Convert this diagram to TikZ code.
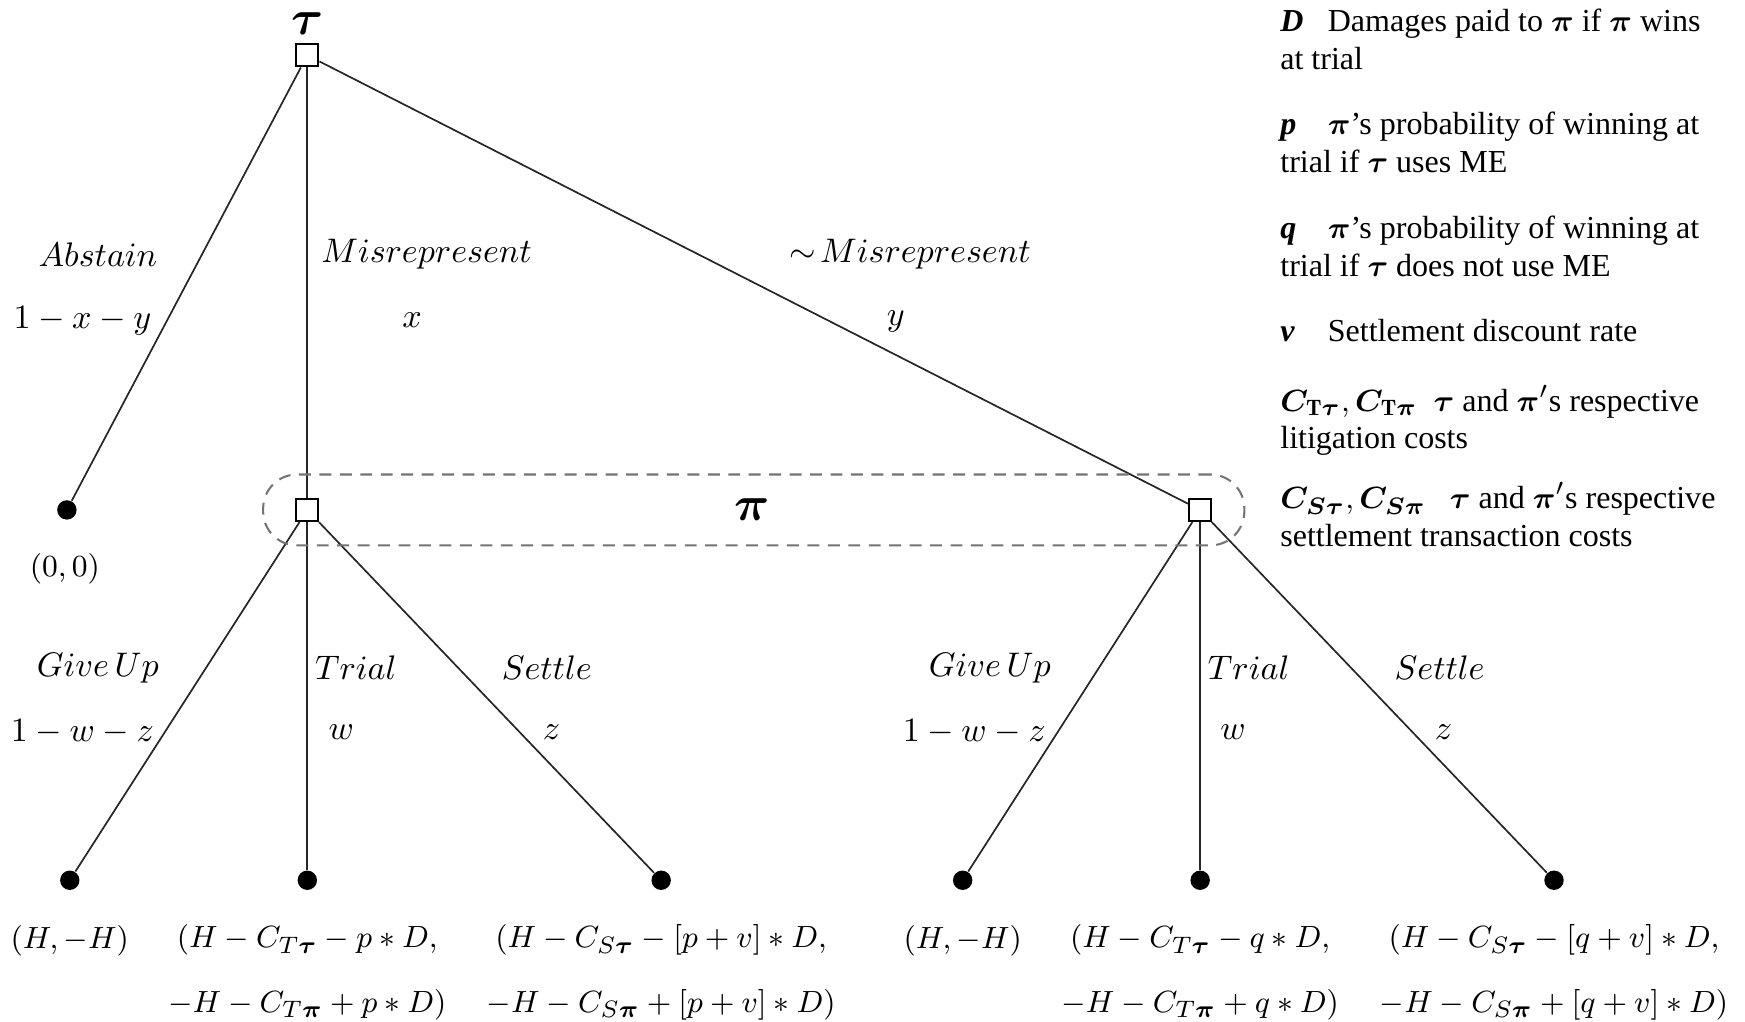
\documentclass[tikz,border=0pt]{standalone}
\usepackage{fontspec}
\usepackage{amsmath}
\usepackage{bm}
\newfontfamily\legendfont{Liberation Serif}
\usetikzlibrary{positioning, fit}
\tikzset{
  decision/.style={rectangle, draw, line width=0.6pt, fill=white, minimum size=0.23cm, inner sep=0pt},
  leaf/.style={circle, fill=black, minimum size=0.2cm, inner sep=0pt},
  branch/.style={draw=black!85, line width=0.5pt},
  player/.style={font=\Large, inner sep=0pt},
  act/.style={inner sep=1pt, font=\fontsize{9.6}{11.5}\selectfont},
  payoff/.style={align=center, inner sep=1pt, font=\fontsize{9.5}{11.4}\selectfont},
  infoset/.style={draw=black!55, dash pattern=on 3.5pt off 2.5pt, line width=0.6pt, rounded corners=0.35cm, inner xsep=0.33cm, inner ysep=0.24cm},
  legend/.style={anchor=base west, align=left, inner sep=0pt, font=\legendfont\fontsize{9.4}{11.1}\selectfont},
}

\begin{document}
\begin{tikzpicture}
  \useasboundingbox (0,0) rectangle (18,-10.54);

  % Decision nodes
  \node[player] (tauLab) at (3.17,-0.24) {$\bm{\tau}$};
  \node[decision] (tau) at (3.17,-0.57) {};
  \node[decision] (piL) at (3.17,-5.26) {};
  \node[decision] (piR) at (12.38,-5.26) {};

  % Terminal nodes
  \node[leaf] (abst) at (0.69,-5.26) {};
  \node[leaf] (giveL) at (0.72,-9.08) {};
  \node[leaf] (trialL) at (3.17,-9.08) {};
  \node[leaf] (settleL) at (6.82,-9.08) {};
  \node[leaf] (giveR) at (9.93,-9.08) {};
  \node[leaf] (trialR) at (12.38,-9.08) {};
  \node[leaf] (settleR) at (16.03,-9.08) {};

  % Branches
  \draw[branch] (tau) -- (abst);
  \draw[branch] (tau) -- (piL);
  \draw[branch] (tau) -- (piR);
  \draw[branch] (piL) -- (giveL);
  \draw[branch] (piL) -- (trialL);
  \draw[branch] (piL) -- (settleL);
  \draw[branch] (piR) -- (giveR);
  \draw[branch] (piR) -- (trialR);
  \draw[branch] (piR) -- (settleR);

  % Information set of pi
  \node[infoset, fit=(piL)(piR)] (info) {};
  \node[player] (piLab) at (7.76,-5.26) {$\bm{\pi}$};

  % Actions of tau
  \node[act] (aAbst) at (1.01,-2.63) {$Abstain$};
  \node[act] (prAbst) at (0.85,-3.31) {$1-x-y$};
  \node[act] (aMis) at (4.40,-2.62) {$Misrepresent$};
  \node[act] (prMis) at (4.25,-3.30) {$x$};
  \node[act] (aNot) at (9.39,-2.62) {$\sim\!Misrepresent$};
  \node[act] (prNot) at (9.24,-3.32) {$y$};

  % Actions of pi
  \node[act] (aGiveL) at (1.01,-6.89) {$Give\,Up$};
  \node[act] (prGiveL) at (0.85,-7.55) {$1-w-z$};
  \node[act] (aTrialL) at (3.67,-6.89) {$Trial$};
  \node[act] (prTrialL) at (3.52,-7.55) {$w$};
  \node[act] (aSettleL) at (5.64,-6.89) {$Settle$};
  \node[act] (prSettleL) at (5.69,-7.55) {$z$};
  \node[act] (aGiveR) at (10.21,-6.89) {$Give\,Up$};
  \node[act] (prGiveR) at (10.05,-7.55) {$1-w-z$};
  \node[act] (aTrialR) at (12.88,-6.89) {$Trial$};
  \node[act] (prTrialR) at (12.72,-7.55) {$w$};
  \node[act] (aSettleR) at (14.85,-6.89) {$Settle$};
  \node[act] (prSettleR) at (14.89,-7.55) {$z$};

  % Payoffs
  \node[payoff] (payAbst) at (0.67,-5.87) {$(0,0)$};
  \node[payoff] (payGiveL) at (0.72,-9.70) {$(H,-H)$};
  \node[payoff] (payTrialL) at (3.17,-10.03) {$(H-C_{T\bm{\tau}}-p*D,$\\[7.5pt]$-H-C_{T\bm{\pi}}+p*D)$};
  \node[payoff] (paySettleL) at (6.82,-10.03) {$(H-C_{S\bm{\tau}}-[p+v]*D,$\\[7.5pt]$-H-C_{S\bm{\pi}}+[p+v]*D)$};
  \node[payoff] (payGiveR) at (9.93,-9.70) {$(H,-H)$};
  \node[payoff] (payTrialR) at (12.38,-10.03) {$(H-C_{T\bm{\tau}}-q*D,$\\[7.5pt]$-H-C_{T\bm{\pi}}+q*D)$};
  \node[payoff] (paySettleR) at (16.03,-10.03) {$(H-C_{S\bm{\tau}}-[q+v]*D,$\\[7.5pt]$-H-C_{S\bm{\pi}}+[q+v]*D)$};

  % Legend
  \node[legend] (keyD) at (13.2,-0.72) {\makebox[0.49cm][l]{\bfseries\itshape D}Damages paid to $\bm{\pi}$ if $\bm{\pi}$ wins\\at trial};
  \node[legend] (keyP) at (13.2,-1.78) {\makebox[0.49cm][l]{\bfseries\itshape p}$\bm{\pi}$’s probability of winning at\\trial if $\bm{\tau}$ uses ME};
  \node[legend] (keyQ) at (13.2,-2.85) {\makebox[0.49cm][l]{\bfseries\itshape q}$\bm{\pi}$’s probability of winning at\\trial if $\bm{\tau}$ does not use ME};
  \node[legend] (keyV) at (13.2,-3.52) {\makebox[0.49cm][l]{\bfseries\itshape v}Settlement discount rate};
  \node[legend] (keyCT) at (13.2,-4.63) {$\bm{C}_{\mathbf{T}\bm{\tau}},\bm{C}_{\mathbf{T}\bm{\pi}}$\enspace $\bm{\tau}$ and $\bm{\pi}'$s respective\\litigation costs};
  \node[legend] (keyCS) at (13.2,-5.64) {$\bm{C}_{\bm{S\tau}},\bm{C}_{\bm{S\pi}}$\enspace\ $\bm{\tau}$ and $\bm{\pi}'$s respective\\settlement transaction costs};
\end{tikzpicture}
\end{document}
